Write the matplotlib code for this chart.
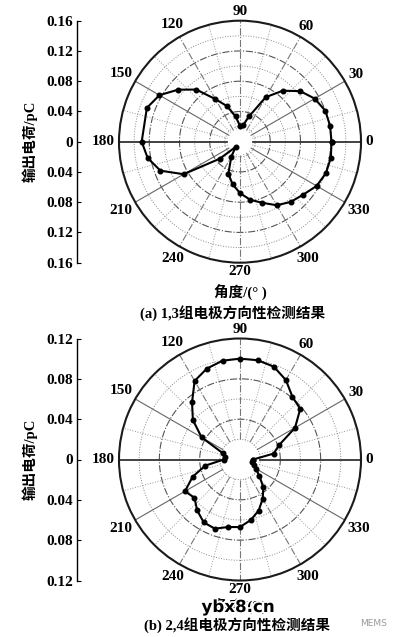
import numpy as np
import matplotlib
matplotlib.use('Agg')
import matplotlib.pyplot as plt
import matplotlib.patheffects as pe

# angles in degrees, charge in pC
ang_a = [0, 10, 20, 30, 40, 50, 60, 70, 80, 90, 100, 110, 120, 130, 140, 150, 160,
         180, 190, 200, 210, 220, 230, 240, 250, 260, 270, 280, 290, 300, 310, 320,
         330, 340, 350]
q_a = [0.121, 0.121, 0.120, 0.114, 0.104, 0.088, 0.068, 0.036, 0.022, 0.021, 0.034,
       0.050, 0.065, 0.090, 0.107, 0.123, 0.131,
       0.130, 0.124, 0.112, 0.086, 0.035, 0.009, 0.023, 0.045, 0.057, 0.068, 0.078,
       0.086, 0.097, 0.104, 0.109, 0.117, 0.121, 0.122]

ang_b = list(range(0, 360, 10))
q_b = [0.013, 0.034, 0.041, 0.063, 0.078, 0.081, 0.091, 0.098, 0.100, 0.100, 0.0995,
       0.096, 0.090, 0.074, 0.061, 0.044, 0.018, 0.015, 0.016, 0.035, 0.050, 0.063,
       0.059, 0.066, 0.072, 0.073, 0.068, 0.067, 0.061, 0.054, 0.045, 0.036, 0.025,
       0.018, 0.015, 0.012]

rmax_a = 0.16
rmax_b = 0.12
angle_labels = ['0', '30', '60', '90', '120', '150', '180', '210', '240', '270', '300', '330']

xlabel = '角度/(° )'
ylabel = '输出电荷/pC'
cap_a = '(a) 1,3组电极方向性检测结果'
cap_b = '(b) 2,4组电极方向性检测结果'

W, H = 399, 637
serif = ['Liberation Serif', 'Noto Sans CJK SC']
fig = plt.figure(figsize=(W / 100, H / 100), dpi=100)


def polar_panel(cx, cy, R, ang, q, rmax, r0):
    rect = [(cx - R) / W, (H - (cy + R)) / H, 2 * R / W, 2 * R / H]
    ax = fig.add_axes(rect, projection='polar')
    ax.set_ylim(0, rmax)
    ax.set_xticks([])
    ax.set_yticks([])
    ax.grid(False)
    ax.spines['polar'].set_linewidth(1.5)
    ax.spines['polar'].set_color('#1a1a1a')
    t = np.linspace(0, 2 * np.pi, 361)
    # rings
    for i, rr in enumerate(np.arange(0.02, rmax - 1e-9, 0.02)):
        if i % 2 == 1:
            ax.plot(t, np.full_like(t, rr), color='#555555', lw=0.8, ls='-.')
        else:
            ax.plot(t, np.full_like(t, rr), color='#888888', lw=0.7, ls=':')
    # spokes
    for a in range(0, 180, 15):
        th = np.deg2rad([a, a])
        for s in (0, np.pi):
            if a == 0:
                st = dict(color='#333333', lw=1.3, ls='-')
            elif a in (30, 150):
                st = dict(color='#666666', lw=0.8, ls='-')
            elif a % 30 == 0:
                st = dict(color='#777777', lw=0.8, ls='-.')
            else:
                st = dict(color='#999999', lw=0.7, ls=':')
            ax.plot(th + s, [r0, rmax], **st)
    th = np.deg2rad(ang + [ang[0]])
    ax.plot(th, q + [q[0]], color='black', lw=1.5, marker='o', ms=3.3)
    for lab in angle_labels:
        a = np.deg2rad(float(lab))
        w = 7.6 * len(lab)
        off = 4 + w / 2 * abs(np.cos(a)) + 5 * abs(np.sin(a))
        ax.annotate(lab, (a, rmax), xytext=(off * np.cos(a) * 0.72, off * np.sin(a) * 0.72),
                    textcoords='offset points', ha='center', va='center',
                    fontsize=11, family=serif, weight='bold', annotation_clip=False)

    # left radial scale
    lax = fig.add_axes([77 / W, rect[1], 0.02, rect[3]])
    lax.set_ylim(-rmax, rmax)
    for sp in ('top', 'right', 'bottom'):
        lax.spines[sp].set_visible(False)
    lax.spines['left'].set_linewidth(1.0)
    lax.set_xticks([])
    ticks = np.arange(-rmax, rmax + 1e-9, 0.04)
    lax.set_yticks(ticks)
    lax.set_yticklabels(['0' if abs(v) < 1e-9 else '%.2f' % abs(v) for v in ticks],
                        family=serif, fontsize=11, weight='bold')
    lax.tick_params(axis='y', direction='in', length=3, pad=3)
    lax.patch.set_visible(False)
    fig.text(30 / W, 1 - cy / H, ylabel, rotation=90, ha='center', va='center',
             fontsize=10.5, family=serif, weight='bold')
    return ax


polar_panel(240, 141.7, 121, ang_a, q_a, rmax_a, 0.017)
polar_panel(240, 459.5, 121, ang_b, q_b, rmax_b, 0.02)

fig.text(240 / W, 1 - 293 / H, xlabel, ha='center', va='center', fontsize=10.5,
         family=serif, weight='bold')
fig.text(233 / W, 1 - 313 / H, cap_a, ha='center', va='center', fontsize=10.5,
         family=serif, weight='bold')
fig.text(240 / W, 1 - 607 / H, xlabel, ha='center', va='center', fontsize=10.5,
         family=serif, weight='bold')
fig.text(238 / W, 1 - 607 / H, 'ybx8.cn', ha='center', va='center', fontsize=12,
         family='DejaVu Sans', weight='bold',
         path_effects=[pe.withStroke(linewidth=2.5, foreground='white')])
fig.text(237 / W, 1 - 625 / H, cap_b, ha='center', va='center', fontsize=10.5,
         family=serif, weight='bold')
fig.text(374 / W, 1 - 623 / H, 'MEMS', ha='center', va='center', fontsize=6.5,
         family='DejaVu Sans', color='#999999')

fig.savefig('out.png', dpi=100)
